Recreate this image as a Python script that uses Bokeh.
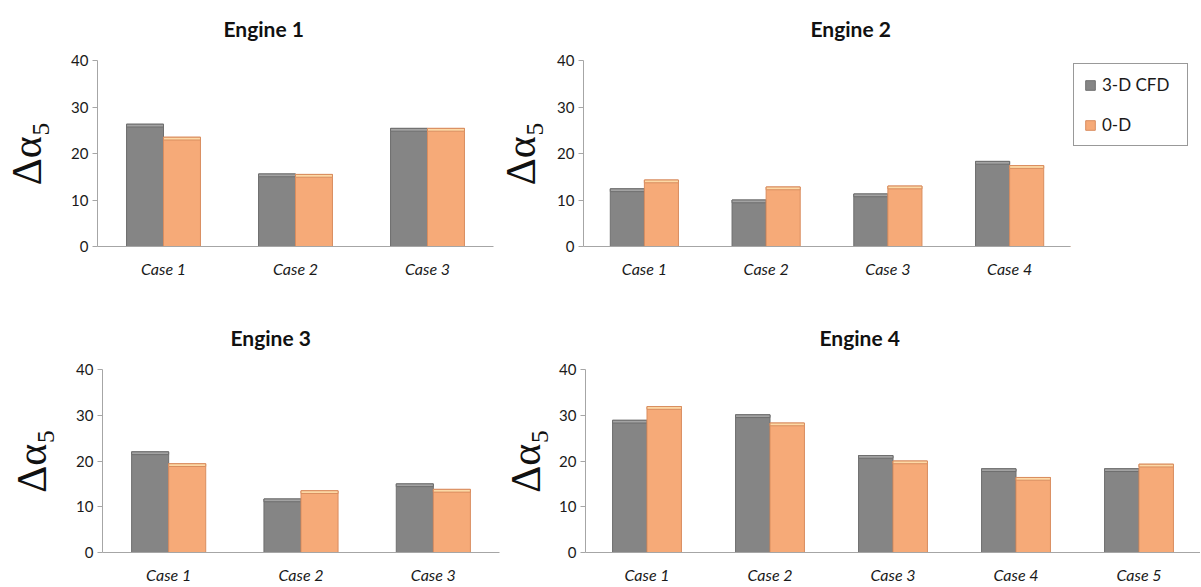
from bokeh.plotting import figure
from bokeh.layouts import column, row
from bokeh.models import (ColumnDataSource, FactorRange, Legend, LegendItem, Range1d,
                          FixedTicker, Title)
from bokeh.transform import dodge
from bokeh.embed import file_html
from bokeh.resources import INLINE

series_names = ["3-D CFD", "0-D"]
engine_titles = ["Engine 1", "Engine 2", "Engine 3", "Engine 4"]

cases_e1 = ["Case 1", "Case 2", "Case 3"]
cfd_e1 = [26.3, 15.6, 25.4]
zd_e1 = [23.5, 15.5, 25.4]

cases_e2 = ["Case 1", "Case 2", "Case 3", "Case 4"]
cfd_e2 = [12.4, 10.0, 11.3, 18.3]
zd_e2 = [14.3, 12.8, 13.0, 17.4]

cases_e3 = ["Case 1", "Case 2", "Case 3"]
cfd_e3 = [22.0, 11.7, 15.0]
zd_e3 = [19.4, 13.5, 13.8]

cases_e4 = ["Case 1", "Case 2", "Case 3", "Case 4", "Case 5"]
cfd_e4 = [28.9, 30.1, 21.2, 18.3, 18.3]
zd_e4 = [31.9, 28.3, 20.0, 16.4, 19.3]

y_ticks = [0, 10, 20, 30, 40]
y_label = "Δα₅"

GRAY = "#858585"
GRAY_EDGE = "#6f6f6f"
GRAY_CAP = "#a3a3a3"
ORANGE = "#f6aa78"
ORANGE_EDGE = "#d98d5f"
ORANGE_CAP = "#fdd9a6"
FONT = "Lato"


def make_panel(title, cases, cfd, zd, width, height, mbl, mbr, mbt, mbb,
               title_offset, x_standoff, label_standoff):
    cap = 0.6
    src = ColumnDataSource(dict(
        cases=cases, cfd=cfd, zd=zd,
        cfd_cap=[v - cap for v in cfd], zd_cap=[v - cap for v in zd],
    ))
    p = figure(x_range=FactorRange(factors=cases, range_padding=0),
               y_range=Range1d(0, 40), width=width, height=height,
               output_backend="svg", toolbar_location=None,
               min_border_left=mbl, min_border_right=mbr,
               min_border_top=mbt, min_border_bottom=mbb,
               title=None)
    # spacer between frame and title
    p.add_layout(Title(text=" ", text_font=FONT, text_font_size="11px", standoff=3), "above")
    p.add_layout(Title(text=title, align="left", offset=title_offset, text_font=FONT,
                       text_font_size="21px", text_font_style="bold",
                       text_color="#111111", standoff=4), "above")

    p.vbar(x=dodge("cases", -0.14, range=p.x_range), top="cfd", width=0.28,
           source=src, fill_color=GRAY, line_color=GRAY_EDGE, line_width=1)
    p.vbar(x=dodge("cases", -0.14, range=p.x_range), top="cfd", bottom="cfd_cap",
           width=0.28, source=src, fill_color=GRAY_CAP, line_color=GRAY_EDGE, line_width=1)
    p.vbar(x=dodge("cases", 0.14, range=p.x_range), top="zd", width=0.28,
           source=src, fill_color=ORANGE, line_color=ORANGE_EDGE, line_width=1)
    p.vbar(x=dodge("cases", 0.14, range=p.x_range), top="zd", bottom="zd_cap",
           width=0.28, source=src, fill_color=ORANGE_CAP, line_color=ORANGE_EDGE, line_width=1)

    p.xgrid.visible = False
    p.ygrid.visible = False
    p.outline_line_color = None

    p.yaxis.ticker = FixedTicker(ticks=y_ticks)
    p.yaxis.minor_tick_line_color = None
    p.yaxis.major_tick_out = 5
    p.yaxis.major_tick_in = 0
    p.yaxis.major_tick_line_color = "#a6a6a6"
    p.yaxis.axis_line_color = "#a6a6a6"
    p.yaxis.major_label_text_font = FONT
    p.yaxis.major_label_text_font_size = "15px"
    p.yaxis.major_label_text_color = "#1a1a1a"
    p.yaxis.major_label_standoff = 4
    p.yaxis.axis_label = y_label
    p.yaxis.axis_label_text_font = "Liberation Serif"
    p.yaxis.axis_label_text_font_size = "42px"
    p.yaxis.axis_label_text_font_style = "normal"
    p.yaxis.axis_label_text_color = "#111111"
    p.yaxis.axis_label_standoff = label_standoff

    p.xaxis.axis_line_color = "#a6a6a6"
    p.xaxis.major_tick_line_color = None
    p.xaxis.minor_tick_line_color = None
    p.xaxis.major_tick_out = 0
    p.xaxis.major_tick_in = 0
    p.xaxis.major_label_text_font = FONT
    p.xaxis.major_label_text_font_size = "16px"
    p.xaxis.major_label_text_font_style = "italic"
    p.xaxis.major_label_text_color = "#1a1a1a"
    p.xaxis.major_label_standoff = x_standoff
    return p


def make_legend_panel(width, height, top):
    # a panel that only carries the shared legend; its swatch renderers sit outside the view
    p = figure(width=width, height=height, output_backend="svg", toolbar_location=None,
               x_axis_type=None, y_axis_type=None, title=None,
               x_range=Range1d(0, 1), y_range=Range1d(0, 1),
               min_border_left=0, min_border_right=0, min_border_top=top,
               min_border_bottom=0)
    p.xgrid.visible = False
    p.ygrid.visible = False
    p.outline_line_color = None
    swatch = ColumnDataSource(dict(x=[-5.0], top=[-5.0]))
    g1 = p.vbar(x="x", top="top", width=0.1, source=swatch,
                fill_color=GRAY, line_color=GRAY_EDGE, line_width=1)
    g2 = p.vbar(x="x", top="top", width=0.1, source=swatch,
                fill_color=ORANGE, line_color=ORANGE_EDGE, line_width=1)
    leg = Legend(items=[LegendItem(label=series_names[0], renderers=[g1]),
                        LegendItem(label=series_names[1], renderers=[g2])],
                 location="top_left", padding=10, spacing=19,
                 glyph_width=12, glyph_height=12, label_standoff=6,
                 label_width=75, label_height=20,
                 label_text_font=FONT, label_text_font_size="17px",
                 label_text_color="#1a1a1a",
                 border_line_color="#333333", border_line_width=1,
                 background_fill_color="white", background_fill_alpha=1,
                 margin=3)
    p.add_layout(leg)
    return p


p1 = make_panel(engine_titles[0], cases_e1, cfd_e1, zd_e1, 495, 300, 97, 2, 60, 54, 126, 12, 18)
p2 = make_panel(engine_titles[1], cases_e2, cfd_e2, zd_e2, 575, 300, 87, 0, 60, 54, 227, 12, 10)
pleg = make_legend_panel(130, 300, 60)
p3 = make_panel(engine_titles[2], cases_e3, cfd_e3, zd_e3, 500, 286, 102, 1, 69, 33, 128, 12, 18)
p4 = make_panel(engine_titles[3], cases_e4, cfd_e4, zd_e4, 700, 286, 82, 0, 69, 33, 234, 12, 7)

layout = column(row(p1, p2, pleg), row(p3, p4))

open("out.html", "w").write(file_html(layout, INLINE))
